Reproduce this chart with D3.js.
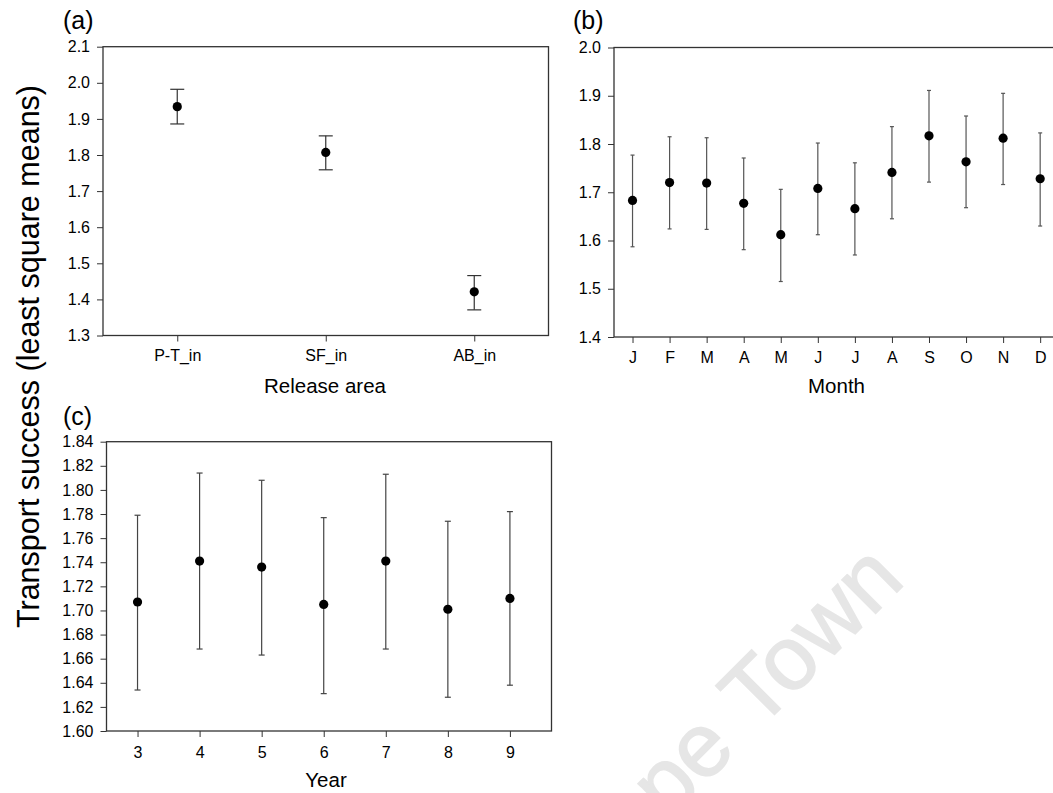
<!DOCTYPE html>
<html>
<head>
<meta charset="utf-8">
<script src="https://cdn.jsdelivr.net/npm/d3@7"></script>
<style>
  body { margin: 0; background: #fff; }
  text { font-family: Arial, "Liberation Sans", sans-serif; fill: #000; }
</style>
</head>
<body>
<svg id="chart" width="1053" height="793"></svg>
<script>
// (a) release area
var areaCats = ["P-T_in", "SF_in", "AB_in"];
var areaMean = [1.934, 1.807, 1.421];
var areaLow  = [1.886, 1.759, 1.371];
var areaHigh = [1.982, 1.853, 1.466];
var areaTicks = [1.3, 1.4, 1.5, 1.6, 1.7, 1.8, 1.9, 2.0, 2.1];

// (b) month
var months    = ["J", "F", "M", "A", "M", "J", "J", "A", "S", "O", "N", "D"];
var monthMean = [1.683, 1.720, 1.719, 1.677, 1.612, 1.708, 1.666, 1.741, 1.817, 1.763, 1.812, 1.728];
var monthLow  = [1.587, 1.624, 1.623, 1.581, 1.515, 1.612, 1.570, 1.645, 1.721, 1.668, 1.716, 1.630];
var monthHigh = [1.777, 1.815, 1.813, 1.771, 1.706, 1.802, 1.761, 1.836, 1.911, 1.858, 1.905, 1.823];
var monthTicks = [1.4, 1.5, 1.6, 1.7, 1.8, 1.9, 2.0];

// (c) year
var years    = [3, 4, 5, 6, 7, 8, 9];
var yearMean = [1.707, 1.741, 1.736, 1.705, 1.741, 1.701, 1.710];
var yearLow  = [1.634, 1.668, 1.663, 1.631, 1.668, 1.628, 1.638];
var yearHigh = [1.779, 1.814, 1.808, 1.777, 1.813, 1.774, 1.782];
var yearTicks = [1.60, 1.62, 1.64, 1.66, 1.68, 1.70, 1.72, 1.74, 1.76, 1.78, 1.80, 1.82, 1.84];

var svg = d3.select("#chart");
var lineCol = "#333";

// watermark (runs off the bottom edge like the original)
var wm = svg.append("g").attr("transform", "translate(758,731) rotate(-45)")
    .style("font-size", "90px");
wm.append("text").attr("x", 0).attr("text-anchor", "start")
    .style("fill", "#e6e6e6").style("stroke", "#e6e6e6").style("stroke-width", 1.5)
    .text("Town");
wm.append("text").attr("x", -28).attr("text-anchor", "end")
    .style("fill", "#e6e6e6").style("stroke", "#e6e6e6").style("stroke-width", 1.5)
    .text("Cape");

function panel(o) {
  var g = svg.append("g");
  var x = o.x, y = o.y;

  // frame
  g.append("rect")
      .attr("x", o.left).attr("y", o.top)
      .attr("width", o.right - o.left).attr("height", o.bottom - o.top)
      .attr("fill", "none").attr("stroke", lineCol).attr("stroke-width", 1.3);

  var yAxis = d3.axisLeft(y).tickValues(o.yTicks).tickFormat(d3.format(o.yFmt))
      .tickSize(6).tickPadding(7);
  var ya = g.append("g").attr("transform", "translate(" + o.left + ",0)").call(yAxis);

  var xAxis = d3.axisBottom(x).tickValues(o.xVals).tickFormat(o.xFmt)
      .tickSize(6).tickPadding(o.xPad);
  var xa = g.append("g").attr("transform", "translate(0," + o.bottom + ")").call(xAxis);

  [ya, xa].forEach(function(a) {
    a.select(".domain").remove();
    a.selectAll("line").attr("stroke", lineCol);
    a.selectAll("text").style("font-size", "16px").attr("fill", "#000");
  });

  // error bars
  var bars = g.selectAll(".eb").data(o.xVals).enter().append("g");
  bars.append("line")
      .attr("x1", function(d) { return x(d); }).attr("x2", function(d) { return x(d); })
      .attr("y1", function(d, i) { return y(o.low[i]); })
      .attr("y2", function(d, i) { return y(o.high[i]); })
      .attr("stroke", o.barCol).attr("stroke-width", 1.2);
  [o.low, o.high].forEach(function(arr) {
    bars.append("line")
        .attr("x1", function(d) { return x(d) - o.cap; })
        .attr("x2", function(d) { return x(d) + o.cap; })
        .attr("y1", function(d, i) { return y(arr[i]); })
        .attr("y2", function(d, i) { return y(arr[i]); })
        .attr("stroke", o.barCol).attr("stroke-width", 1.2);
  });
  bars.append("circle")
      .attr("cx", function(d) { return x(d); })
      .attr("cy", function(d, i) { return y(o.mean[i]); })
      .attr("r", 4.6)
      .attr("fill", "#000");

  g.append("text")
      .attr("x", o.titleX)
      .attr("y", o.titleY)
      .attr("text-anchor", "middle")
      .style("font-size", "20.5px")
      .text(o.title);

  g.append("text")
      .attr("x", o.tagX).attr("y", o.tagY)
      .style("font-size", "25px")
      .text(o.tag);
}

// (a)
panel({
  left: 103, right: 548.5, top: 46.7, bottom: 335.5,
  x: d3.scalePoint().domain(d3.range(areaCats.length)).range([103, 548.5]).padding(0.5),
  xVals: d3.range(areaCats.length),
  xFmt: function(i) { return areaCats[i]; },
  xPad: 8,
  y: d3.scaleLinear().domain([1.3, 2.1]).range([335.5, 46.7]),
  yTicks: areaTicks, yFmt: ".1f",
  mean: areaMean, low: areaLow, high: areaHigh,
  cap: 7, barCol: "#333",
  title: "Release area", titleX: 325, titleY: 392.5,
  tag: "(a)", tagX: 63, tagY: 29
});

// (b)
panel({
  left: 614, right: 1058.7, top: 47.5, bottom: 337,
  x: d3.scalePoint().domain(d3.range(months.length)).range([614, 1058.7]).padding(0.5),
  xVals: d3.range(months.length),
  xFmt: function(i) { return months[i]; },
  xPad: 9,
  y: d3.scaleLinear().domain([1.4, 2.0]).range([337, 47.5]),
  yTicks: monthTicks, yFmt: ".1f",
  mean: monthMean, low: monthLow, high: monthHigh,
  cap: 2, barCol: "#555",
  title: "Month", titleX: 836.5, titleY: 393,
  tag: "(b)", tagX: 573, tagY: 29
});

// (c)
panel({
  left: 106.5, right: 551.5, top: 441.7, bottom: 731,
  x: d3.scaleLinear().domain([2.5, 9.67]).range([106.5, 551.5]),
  xVals: years,
  xFmt: d3.format("d"),
  xPad: 10,
  y: d3.scaleLinear().domain([1.60, 1.84]).range([731, 441.7]),
  yTicks: yearTicks, yFmt: ".2f",
  mean: yearMean, low: yearLow, high: yearHigh,
  cap: 3, barCol: "#444",
  title: "Year", titleX: 326, titleY: 787,
  tag: "(c)", tagX: 63, tagY: 425
});

// shared y label
svg.append("text")
    .attr("transform", "translate(39,356.5) rotate(-90)")
    .attr("text-anchor", "middle")
    .style("font-size", "30.5px")
    .text("Transport success (least square means)");
</script>
</body>
</html>
